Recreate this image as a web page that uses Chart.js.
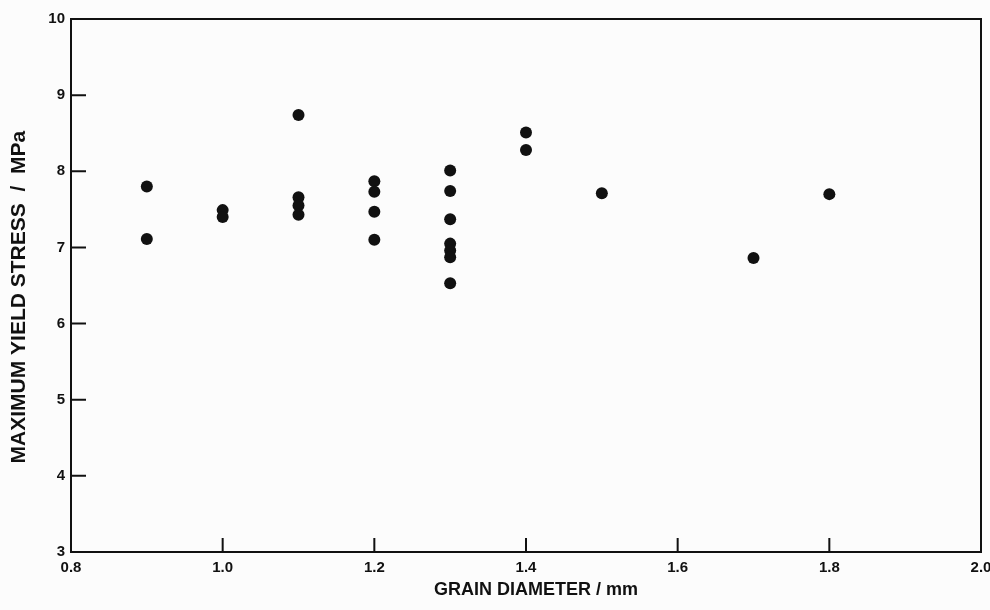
<!DOCTYPE html>
<html>
<head>
<meta charset="utf-8">
<script src="https://cdn.jsdelivr.net/npm/chart.js@4/dist/chart.umd.min.js"></script>
<style>
  html, body { margin: 0; padding: 0; background: #fcfcfc; }
  #wrap { width: 990px; height: 610px; }
</style>
</head>
<body>
<div id="wrap"><canvas id="chart" width="990" height="610"></canvas></div>
<script>
// grain diameter (mm) and matching maximum yield stress (MPa)
const grainDiameter = [0.9, 0.9, 1.0, 1.0, 1.1, 1.1, 1.1, 1.1, 1.2, 1.2, 1.2, 1.2,
                       1.3, 1.3, 1.3, 1.3, 1.3, 1.3, 1.3, 1.4, 1.4, 1.5, 1.7, 1.8];
const maxYieldStress = [7.80, 7.11, 7.49, 7.40, 8.74, 7.66, 7.55, 7.43, 7.87, 7.73, 7.47, 7.10,
                        8.01, 7.74, 7.37, 7.05, 6.96, 6.87, 6.53, 8.51, 8.28, 7.71, 6.86, 7.70];

const xTicks = [0.8, 1.0, 1.2, 1.4, 1.6, 1.8, 2.0];
const yTicks = [3, 4, 5, 6, 7, 8, 9, 10];

const ink = '#111111';
const tickFont = { family: 'Liberation Sans', weight: 'bold', size: 15 };

// frame + inward tick marks
const frame = {
    id: 'frame',
    afterDraw(chart) {
        const { ctx, chartArea: a, scales } = chart;
        ctx.save();
        ctx.strokeStyle = ink;
        ctx.lineWidth = 2;
        ctx.strokeRect(a.left, a.top, a.right - a.left, a.bottom - a.top);
        ctx.beginPath();
        xTicks.forEach(v => {
            const px = scales.x.getPixelForValue(v);
            ctx.moveTo(px, a.bottom);
            ctx.lineTo(px, a.bottom - 14);
        });
        yTicks.forEach(v => {
            const py = scales.y.getPixelForValue(v);
            ctx.moveTo(a.left, py);
            ctx.lineTo(a.left + 15, py);
        });
        ctx.stroke();
        ctx.restore();
    }
};

const points = grainDiameter.map((d, i) => ({ x: d, y: maxYieldStress[i] }));

new Chart(document.getElementById('chart'), {
    type: 'scatter',
    data: {
        datasets: [{
            data: points,
            pointRadius: 6,
            pointHoverRadius: 6,
            backgroundColor: ink,
            borderColor: ink,
            borderWidth: 0
        }]
    },
    options: {
        responsive: false,
        animation: false,
        layout: { padding: { top: 19, right: 9, left: 0, bottom: 0 } },
        plugins: { legend: { display: false }, tooltip: { enabled: false } },
        scales: {
            x: {
                type: 'linear',
                min: 0.8,
                max: 2.0,
                afterBuildTicks: s => { s.ticks = xTicks.map(v => ({ value: v })); },
                afterFit: s => { s.height = 58; s.paddingRight = 0; s.paddingLeft = 0; },
                grid: { display: false, drawTicks: false },
                border: { display: false },
                ticks: {
                    color: ink,
                    font: tickFont,
                    padding: 7,
                    maxRotation: 0,
                    callback: v => v.toFixed(1)
                },
                title: {
                    display: true,
                    // leading spaces nudge the centred title to the right, as in the original
                    text: '    GRAIN DIAMETER / mm',
                    color: ink,
                    font: { family: 'Liberation Sans', weight: 'bold', size: 18 },
                    padding: { top: 0, bottom: 9 }
                }
            },
            y: {
                type: 'linear',
                min: 3,
                max: 10,
                afterBuildTicks: s => { s.ticks = yTicks.map(v => ({ value: v })); },
                afterFit: s => { s.width = 71; s.paddingTop = 0; s.paddingBottom = 0; },
                grid: { display: false, drawTicks: false },
                border: { display: false },
                ticks: {
                    color: ink,
                    font: tickFont,
                    padding: 6
                },
                title: {
                    display: true,
                    text: 'MAXIMUM YIELD STRESS  /  MPa    ',
                    color: ink,
                    font: { family: 'Liberation Sans', weight: 'bold', size: 21 },
                    padding: { top: 7, bottom: 0 }
                }
            }
        }
    },
    plugins: [frame]
});
</script>
</body>
</html>
